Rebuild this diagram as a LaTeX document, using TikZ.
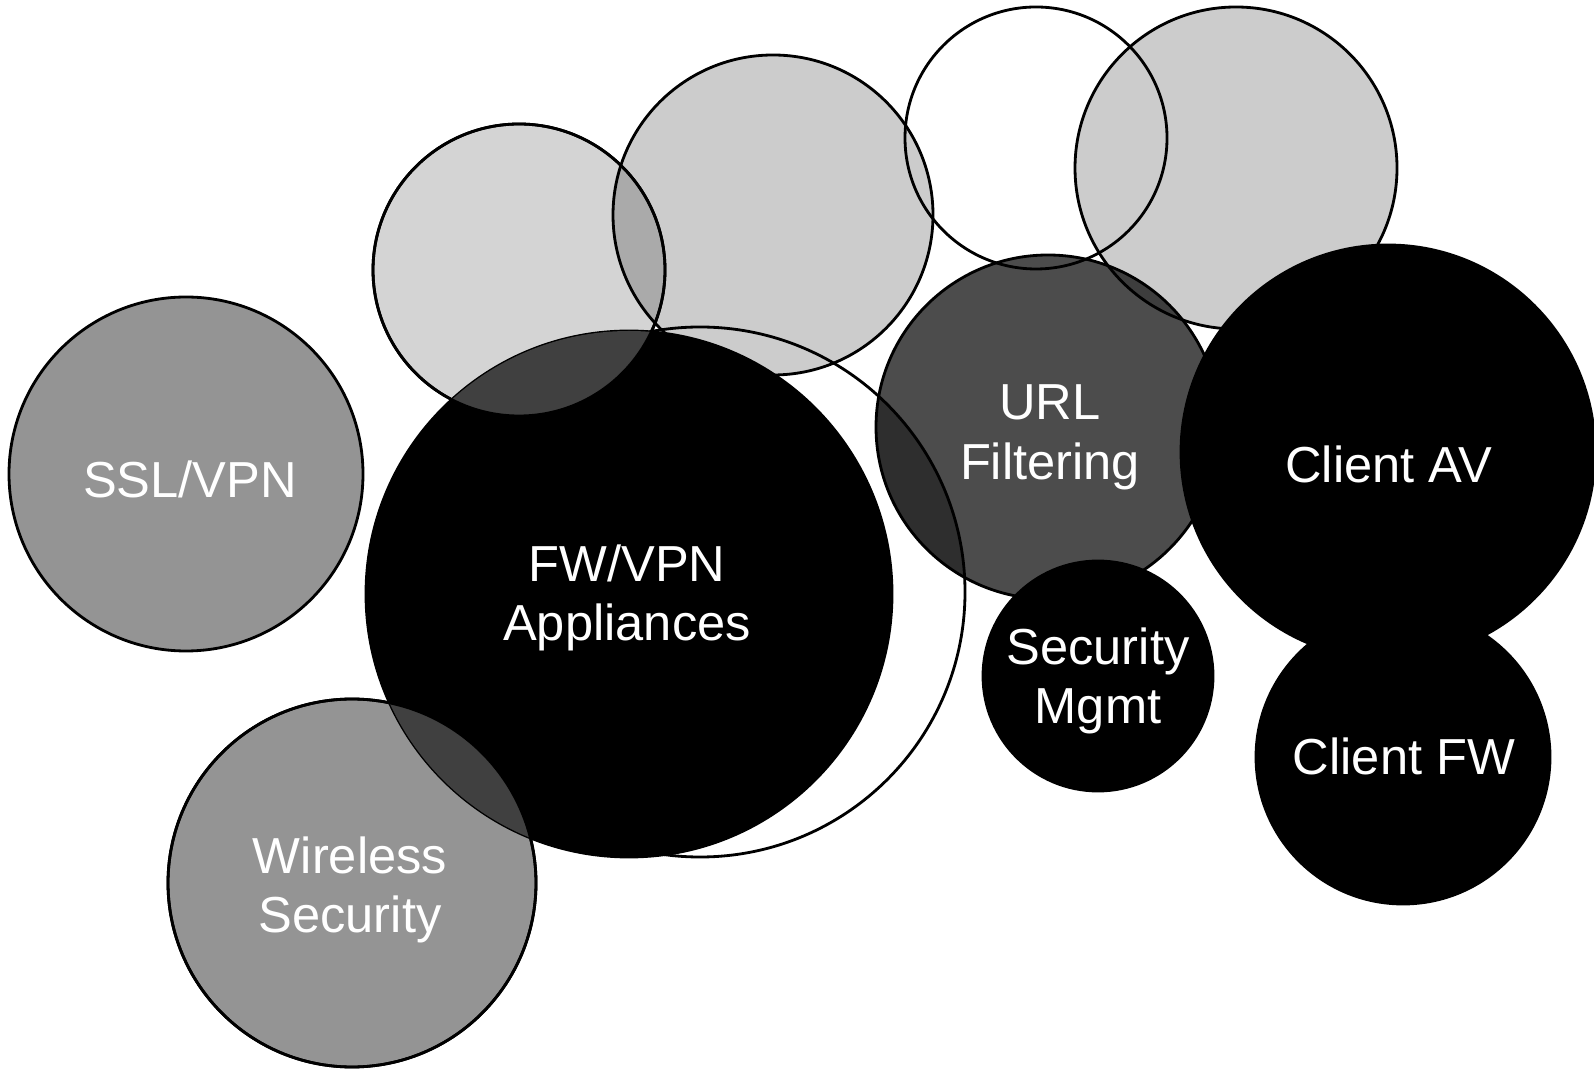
\documentclass[tikz,border=0pt]{standalone}
\usepackage{fontspec}
\setmainfont{Liberation Sans}
\begin{document}
\begin{tikzpicture}[
  rim/.style={draw=black, line width=0.8pt},
  lightdisc/.style={rim, fill=black, fill opacity=0.2},
  middisc/.style={rim, fill=black, fill opacity=0.42},
  darkdisc/.style={rim, fill=black, fill opacity=0.7},
  soliddisc/.style={fill=black, draw=black, line width=0.8pt},
  disctext/.style={text=white, font=\fontsize{14.4}{17}\selectfont, align=center, inner sep=0pt},
]
\useasboundingbox (0,0) rectangle (15.94,-10.69);

% circle centres
\coordinate (ssl)  at (1.86,-4.74);
\coordinate (wire) at (3.52,-8.83);
\coordinate (fw)   at (6.29,-5.94);
\coordinate (ring) at (7.00,-5.92);
\coordinate (ul)   at (5.19,-2.70);
\coordinate (tm)   at (7.73,-2.15);
\coordinate (tw)   at (10.36,-1.38);
\coordinate (tr)   at (12.36,-1.68);
\coordinate (url)  at (10.48,-4.27);
\coordinate (mgmt) at (10.98,-6.76);
\coordinate (cav)  at (13.88,-4.52);
\coordinate (cfw)  at (14.03,-7.57);

% pale discs along the top
\path[lightdisc, fill opacity=0.17] (ul) circle (1.46);
\path[lightdisc] (tm) circle (1.60);
\path[lightdisc] (tr) circle (1.61);
\path[rim] (tw) circle (1.31);
\path[rim] (ring) circle (2.65);

% mid-grey discs on the left
\path[middisc] (ssl) circle (1.77);
\path[middisc] (wire) circle (1.84);

% firewall appliance disc with its overlaps
\path[soliddisc] (fw) circle (2.63);
\begin{scope}
  \clip (fw) circle (2.63);
  \fill[black!75] (ul) circle (1.46);
  \fill[black!75] (wire) circle (1.84);
\end{scope}
\path[rim] (ul) circle (1.46);
\path[rim] (wire) circle (1.84);

% URL filtering disc
\path[darkdisc] (url) circle (1.72);
\begin{scope}
  \clip (ring) circle (2.65);
  \fill[black, fill opacity=0.4] (url) circle (1.72);
\end{scope}

% solid client and management discs
\path[soliddisc] (mgmt) circle (1.15);
\path[soliddisc] (cav) circle (2.07);
\path[soliddisc] (cfw) circle (1.47);

% labels
\node[disctext] (tssl)  at (1.90,-4.79) {SSL/VPN};
\node[disctext] (twire) at (3.50,-8.90) {Wireless\\Security};
\node[disctext] (tfw)   at (6.27,-5.98) {FW/VPN\\Appliances};
\node[disctext] (turl)  at (10.50,-4.37) {URL\\Filtering};
\node[disctext] (tmgmt) at (10.98,-6.81) {Security\\Mgmt};
\node[disctext] (tcav)  at (13.89,-4.64) {Client AV};
\node[disctext] (tcfw)  at (14.04,-7.56) {Client FW};
\end{tikzpicture}
\end{document}
